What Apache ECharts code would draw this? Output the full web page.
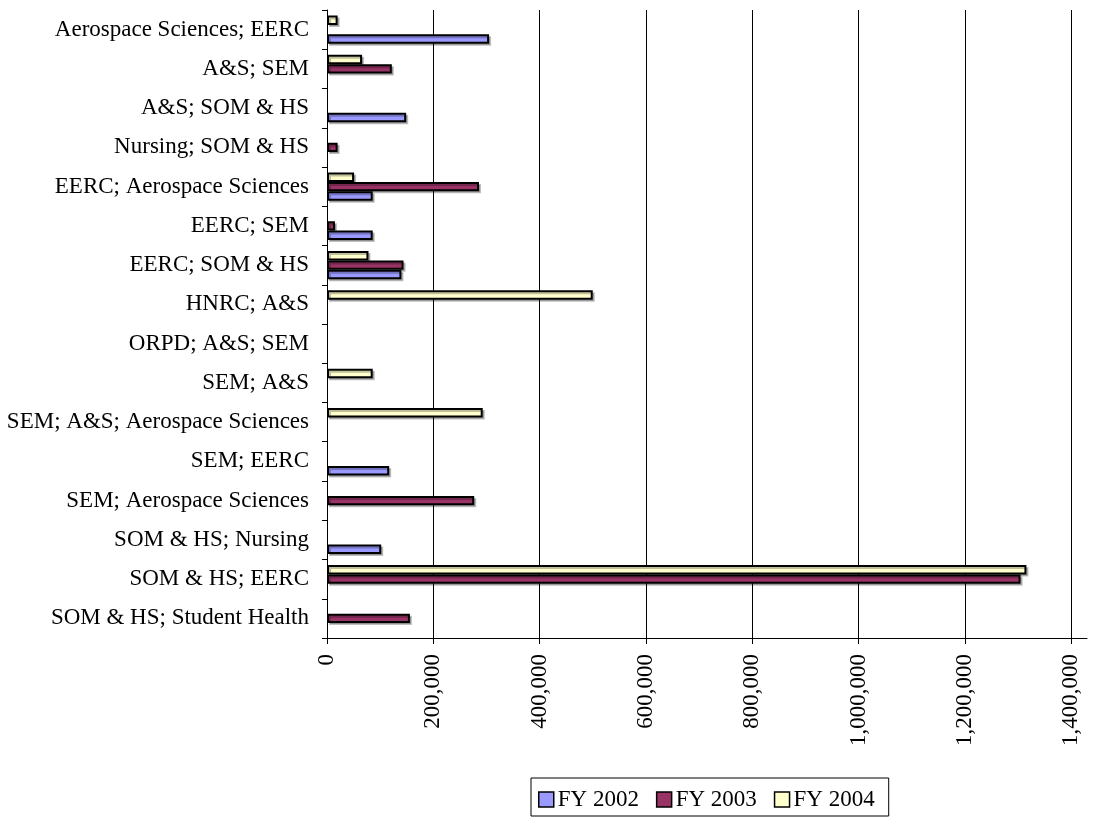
<!DOCTYPE html>
<html>
<head>
<meta charset="utf-8">
<title>Joint funding by unit pair</title>
<script src="https://cdn.jsdelivr.net/npm/echarts@6/dist/echarts.min.js"></script>
<style>
  html, body { margin: 0; padding: 0; background: #fff; }
  #chart { width: 1114px; height: 821px; }
</style>
</head>
<body>
<div id="chart"></div>
<script>
// categories, top to bottom as in the picture
const categories = [
  'Aerospace Sciences; EERC',
  'A&S; SEM',
  'A&S; SOM & HS',
  'Nursing; SOM & HS',
  'EERC; Aerospace Sciences',
  'EERC; SEM',
  'EERC; SOM & HS',
  'HNRC; A&S',
  'ORPD; A&S; SEM',
  'SEM; A&S',
  'SEM; A&S; Aerospace Sciences',
  'SEM; EERC',
  'SEM; Aerospace Sciences',
  'SOM & HS; Nursing',
  'SOM & HS; EERC',
  'SOM & HS; Student Health'
];
const seriesNames = ['FY 2002', 'FY 2003', 'FY 2004'];
const fy2002 = [305000, null, 149000, null, 86000, 86000, 140000, null, null, null, null, 117000, null, 102000, null, null];
const fy2003 = [null, 122000, null, 20000, 286000, 15000, 144000, null, null, null, null, null, 277000, null, 1305000, 156000];
const fy2004 = [20000, 66000, null, null, 51000, null, 78000, 500000, null, 86000, 293000, null, null, null, 1316000, null];
const tickValues = [0, 200000, 400000, 600000, 800000, 1000000, 1200000, 1400000];

const colors = ['#9999FF', '#993366', '#FFFFCC'];
const font = "'Liberation Serif', 'Times New Roman', serif";

const chart = echarts.init(document.getElementById('chart'));

const makeSeries = (name, data, i) => ({
  name: name,
  type: 'bar',
  data: data,
  barGap: '0%',
  barCategoryGap: '28%',
  itemStyle: {
    color: colors[i],
    borderColor: '#000',
    borderWidth: 2,
    shadowColor: 'rgba(0,0,0,0.25)',
    shadowOffsetX: 2,
    shadowOffsetY: 2,
    shadowBlur: 0
  },
  emphasis: { disabled: true }
});

const option = {
  animation: false,
  textStyle: { fontFamily: font },
  color: colors,
  grid: { left: 327, right: 27, top: 10, bottom: 183 },
  legend: {
    data: seriesNames,
    left: 531,
    top: 778,
    orient: 'horizontal',
    itemWidth: 15,
    itemHeight: 15,
    itemGap: 17,
    padding: [10, 14, 5, 7],
    borderColor: '#000',
    borderWidth: 1,
    icon: 'rect',
    itemStyle: { borderColor: '#000', borderWidth: 1.5 },
    textStyle: { fontFamily: font, fontSize: 23, color: '#000', padding: [0, 0, 0, -1] }
  },
  xAxis: {
    type: 'value',
    min: 0,
    max: 1430000,
    interval: 200000,
    axisLine: { show: true, lineStyle: { color: '#000', width: 1 } },
    axisTick: { show: true, length: 6, lineStyle: { color: '#000' }, customValues: tickValues },
    axisLabel: {
      rotate: 90,
      margin: 16,
      color: '#000',
      fontFamily: font,
      fontSize: 23,
      customValues: tickValues,
      formatter: v => v.toLocaleString('en-US')
    },
    splitLine: { show: true, lineStyle: { color: '#000', width: 1 } }
  },
  yAxis: {
    type: 'category',
    data: categories,
    inverse: true,
    axisLine: { show: true, lineStyle: { color: '#000', width: 1 } },
    axisTick: { show: true, length: 5, lineStyle: { color: '#000' } },
    axisLabel: { margin: 18, color: '#000', fontFamily: font, fontSize: 23 },
    splitLine: { show: false }
  },
  // with the inverted category axis, the last series sits on top of each group
  series: [
    makeSeries(seriesNames[2], fy2004, 2),
    makeSeries(seriesNames[1], fy2003, 1),
    makeSeries(seriesNames[0], fy2002, 0)
  ]
};

chart.setOption(option);
</script>
</body>
</html>
